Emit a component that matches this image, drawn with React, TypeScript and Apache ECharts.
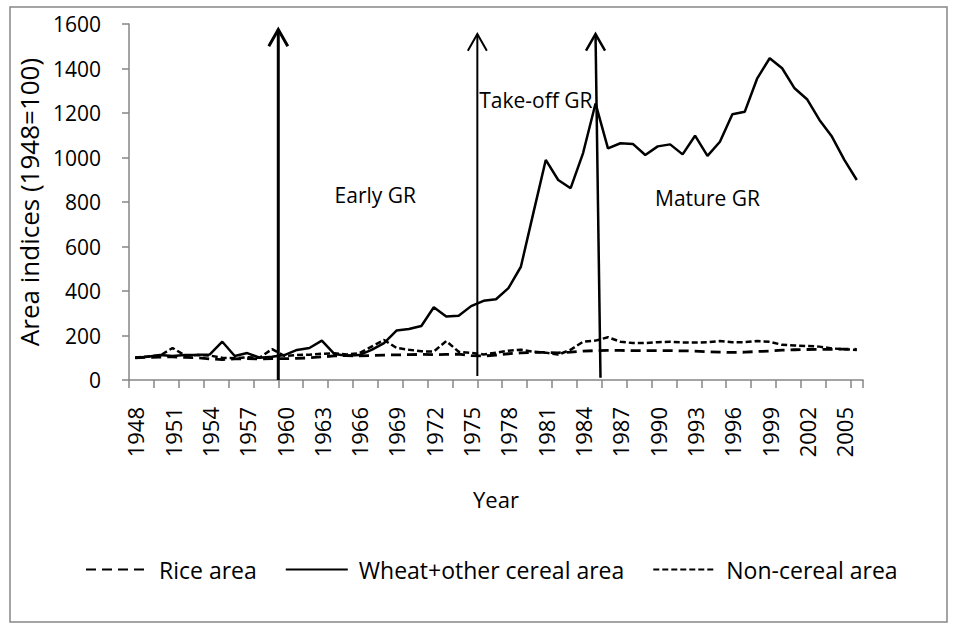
import React, { useEffect, useRef } from "react";
import * as echarts from "echarts";

const years = [
  "1948", "1949", "1950", "1951", "1952", "1953", "1954", "1955", "1956", "1957",
  "1958", "1959", "1960", "1961", "1962", "1963", "1964", "1965", "1966", "1967",
  "1968", "1969", "1970", "1971", "1972", "1973", "1974", "1975", "1976", "1977",
  "1978", "1979", "1980", "1981", "1982", "1983", "1984", "1985", "1986", "1987",
  "1988", "1989", "1990", "1991", "1992", "1993", "1994", "1995", "1996", "1997",
  "1998", "1999", "2000", "2001", "2002", "2003", "2004", "2005", "2006",
];

const riceArea = [
  100, 102, 103, 104, 102, 100, 95, 92, 95, 96,
  95, 96, 96, 97, 100, 104, 108, 110, 108, 110,
  112, 113, 114, 115, 114, 115, 116, 110, 108, 112,
  118, 122, 124, 124, 122, 125, 130, 132, 133, 133,
  132, 132, 132, 132, 131, 130, 127, 125, 124, 125,
  128, 130, 134, 136, 137, 138, 138, 139, 138,
];

const wheatOtherCerealArea = [
  100, 105, 112, 108, 112, 113, 115, 172, 108, 121,
  100, 104, 112, 135, 144, 177, 117, 109, 112, 135,
  166, 222, 229, 243, 327, 285, 289, 332, 356, 363,
  413, 509, 750, 989, 899, 862, 1020, 1243, 1041, 1064,
  1061, 1011, 1050, 1059, 1014, 1098, 1007, 1071, 1194, 1206,
  1356, 1446, 1401, 1311, 1262, 1169, 1094, 989, 899,
];

const nonCerealArea = [
  100, 106, 110, 144, 110, 112, 110, 100, 98, 102,
  100, 139, 108, 112, 114, 118, 120, 115, 120, 150,
  180, 144, 136, 129, 128, 175, 127, 122, 115, 123,
  132, 136, 127, 123, 114, 136, 172, 177, 192, 172,
  166, 166, 170, 172, 169, 168, 170, 175, 170, 170,
  175, 172, 158, 155, 153, 150, 142, 138, 135,
];

const yMin = 0;
const yMax = 1600;
const yStep = 200;

// Phase arrows: positions in category-boundary units and y values
const arrows = [
  { x0: 12, v0: 0, x1: 12, v1: 1575, width: 3 },
  { x0: 28, v0: 18, x1: 28, v1: 1555, width: 2 },
  { x0: 37.9, v0: 10, x1: 37.5, v1: 1555, width: 2.5 },
];

const phaseLabels = [
  { text: "Early GR", x: 19.8, v: 831 },
  { text: "Take-off GR", x: 32.7, v: 1258 },
  { text: "Mature GR", x: 46.5, v: 818 },
];

const FONT = '"Open Sans", "DejaVu Sans", sans-serif';
const AXIS_GRAY = "#868686";

export default function App() {
  const ref = useRef<HTMLDivElement>(null);

  useEffect(() => {
    document.body.style.margin = "0";
    if (!ref.current) return;
    const chart = echarts.init(ref.current, undefined, { renderer: "svg" });

    chart.setOption({
      animation: false,
      backgroundColor: "#ffffff",
      textStyle: { fontFamily: FONT, color: "#000" },
      grid: { left: 129, right: 92, top: 24, bottom: 250, containLabel: false },
      legend: {
        left: 80,
        top: 553,
        itemWidth: 62,
        itemHeight: 14,
        itemGap: 28,
        itemStyle: { opacity: 0, color: "rgba(0,0,0,0)", borderWidth: 0 },
        textStyle: { fontFamily: FONT, fontSize: 23, color: "#000", padding: [0, 0, 0, 6] },
        data: ["Rice area", "Wheat+other cereal area", "Non-cereal area"],
      },
      xAxis: {
        type: "category",
        data: years,
        boundaryGap: true,
        name: "Year",
        nameLocation: "middle",
        nameGap: 108,
        nameTextStyle: { fontFamily: FONT, fontSize: 22, color: "#000" },
        axisLine: { lineStyle: { color: AXIS_GRAY, width: 1.5 } },
        axisTick: { show: true, interval: 1, length: 8, lineStyle: { color: AXIS_GRAY, width: 1.5 } },
        axisLabel: {
          interval: 2,
          rotate: 90,
          margin: 27,
          fontFamily: FONT,
          fontSize: 22,
          color: "#000",
        },
        splitLine: { show: false },
      },
      yAxis: {
        type: "value",
        min: yMin,
        max: yMax,
        interval: yStep,
        name: "Area indices (1948=100)",
        nameLocation: "middle",
        nameGap: 84,
        nameTextStyle: { fontFamily: FONT, fontSize: 26, color: "#000" },
        axisLine: { show: true, lineStyle: { color: AXIS_GRAY, width: 1.5 } },
        axisTick: { show: true, length: 7, lineStyle: { color: AXIS_GRAY, width: 1.5 } },
        axisLabel: {
          margin: 28,
          fontFamily: FONT,
          fontSize: 21,
          color: "#000",
          formatter: (v: number) => String(v),
        },
        splitLine: { show: false },
      },
      series: [
        {
          name: "Rice area",
          type: "line",
          data: riceArea,
          symbol: "none",
          lineStyle: { color: "#000", width: 2.8, type: [10, 6] },
          itemStyle: { color: "#000" },
          z: 3,
        },
        {
          name: "Wheat+other cereal area",
          type: "line",
          data: wheatOtherCerealArea,
          symbol: "none",
          lineStyle: { color: "#000", width: 2.5, type: "solid" },
          itemStyle: { color: "#000" },
          z: 4,
        },
        {
          name: "Non-cereal area",
          type: "line",
          data: nonCerealArea,
          symbol: "none",
          lineStyle: { color: "#000", width: 2.5, type: [6, 3] },
          itemStyle: { color: "#000" },
          z: 3,
        },
      ],
    });

    const c0 = chart.convertToPixel({ xAxisIndex: 0 }, years[0]) as number;
    const c1 = chart.convertToPixel({ xAxisIndex: 0 }, years[1]) as number;
    const band = c1 - c0;
    const xAt = (b: number) => c0 + (b - 0.5) * band;
    const yAt = (v: number) => chart.convertToPixel({ yAxisIndex: 0 }, v) as number;

    const graphics: any[] = [
      {
        type: "rect",
        shape: { x: 10, y: 7, width: 937, height: 615 },
        style: { fill: "none", stroke: AXIS_GRAY, lineWidth: 1.5 },
        z: 0,
        silent: true,
      },
    ];

    arrows.forEach((a) => {
      const bx = xAt(a.x0);
      const by = yAt(a.v0);
      const tx = xAt(a.x1);
      const ty = yAt(a.v1);
      graphics.push({
        type: "line",
        shape: { x1: bx, y1: by, x2: tx, y2: ty },
        style: { stroke: "#000", lineWidth: a.width },
        z: 10,
      });
      graphics.push({
        type: "polyline",
        shape: {
          points: [
            [tx - 9.5, ty + 16.7],
            [tx, ty],
            [tx + 9.5, ty + 16.7],
          ],
        },
        style: { stroke: "#000", lineWidth: a.width, fill: "none" },
        z: 10,
      });
    });

    phaseLabels.forEach((p) => {
      graphics.push({
        type: "text",
        x: xAt(p.x),
        y: yAt(p.v),
        style: {
          text: p.text,
          fontFamily: FONT,
          fontSize: 21,
          fill: "#000",
          align: "center",
          verticalAlign: "middle",
        },
        z: 11,
      });
    });

    chart.setOption({ graphic: graphics });

    return () => {
      chart.dispose();
    };
  }, []);

  return (
    <div
      ref={ref}
      style={{ position: "fixed", left: 0, top: 0, width: 955, height: 630, background: "#fff" }}
    />
  );
}
